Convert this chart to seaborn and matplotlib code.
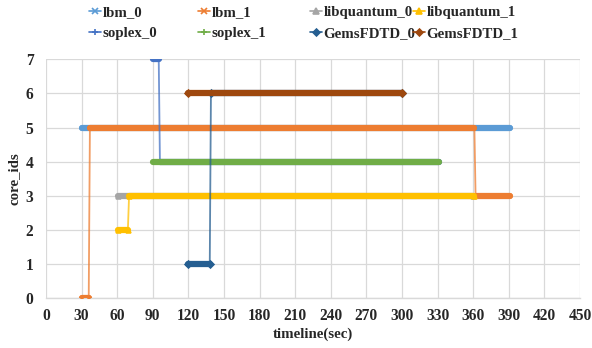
import numpy as np
import pandas as pd
import seaborn as sns
import matplotlib
matplotlib.use("Agg")
import matplotlib.pyplot as plt
from matplotlib.lines import Line2D

# ---- data: change points of each process (time in sec, core id) ----
names = ["lbm_0", "lbm_1", "libquantum_0", "libquantum_1",
         "soplex_0", "soplex_1", "GemsFDTD_0", "GemsFDTD_1"]

lbm_0_t = [30, 391]
lbm_0_core = [5, 5]
lbm_1_t = [30, 36, 37, 361, 362, 391]
lbm_1_core = [0, 0, 5, 5, 3, 3]
libquantum_0_t = [61, 360]
libquantum_0_core = [3, 3]
libquantum_1_t = [61, 69, 70, 361]
libquantum_1_core = [2, 2, 3, 3]
soplex_0_t = [90, 95, 96, 331]
soplex_0_core = [7, 7, 4, 4]
soplex_1_t = [90, 331]
soplex_1_core = [4, 4]
GemsFDTD_0_t = [120, 138, 139, 300]
GemsFDTD_0_core = [1, 1, 6, 6]
GemsFDTD_1_t = [120, 300]
GemsFDTD_1_core = [6, 6]

times = [lbm_0_t, lbm_1_t, libquantum_0_t, libquantum_1_t,
         soplex_0_t, soplex_1_t, GemsFDTD_0_t, GemsFDTD_1_t]
cores = [lbm_0_core, lbm_1_core, libquantum_0_core, libquantum_1_core,
         soplex_0_core, soplex_1_core, GemsFDTD_0_core, GemsFDTD_1_core]

colors = ["#5B9BD5", "#ED7D31", "#A5A5A5", "#FFC000",
          "#4472C4", "#70AD47", "#255E91", "#9E480E"]
markers = ["x", "x", "^", "^", "+", "+", "D", "D"]

x_ticks = list(range(0, 451, 30))
y_ticks = list(range(0, 8))

# ---- style ----
sns.set_theme(style="white")
plt.rcParams["font.family"] = ["Liberation Serif", "DejaVu Serif"]
plt.rcParams["font.weight"] = "bold"

W, H = 592, 348
fig, ax = plt.subplots(figsize=(W / 100, H / 100), dpi=100)
fig.subplots_adjust(left=46 / W, right=580 / W, top=1 - 59.3 / H, bottom=1 - 298 / H)

for i, (nm, t, c, col, mk) in enumerate(zip(names, times, cores, colors, markers)):
    df = pd.DataFrame({"time": t, "core": c})
    z = 3 + i
    # thin connecting line
    sns.lineplot(data=df, x="time", y="core", sort=False, estimator=None,
                 color=col, linewidth=1.3, alpha=0.75, ax=ax, zorder=z)
    # thick bands where the process stays on one core
    for k in range(len(t) - 1):
        if c[k] == c[k + 1]:
            seg = pd.DataFrame({"time": [t[k], t[k + 1]], "core": [c[k], c[k + 1]]})
            sns.lineplot(data=seg, x="time", y="core", sort=False, estimator=None,
                         color=col, linewidth=4.5, solid_capstyle="round",
                         marker=mk, markersize=3.5, markeredgewidth=1.2,
                         markeredgecolor=col, markerfacecolor=col,
                         ax=ax, zorder=z)

ax.set_xlim(0, 450)
ax.set_ylim(0, 7)
ax.set_xticks(x_ticks)
ax.set_yticks(y_ticks)
ax.tick_params(axis="x", labelsize=11.2, length=0, pad=7.5)
ax.tick_params(axis="y", labelsize=11.2, length=0, pad=9)
for lab in ax.get_xticklabels() + ax.get_yticklabels():
    lab.set_fontweight("bold")
ax.grid(True, color="#D9D9D9", linewidth=0.9)
ax.set_axisbelow(True)
for s in ["top", "left", "right"]:
    ax.spines[s].set_visible(False)
ax.spines["bottom"].set_color("#D9D9D9")
ax.spines["bottom"].set_linewidth(1.0)

ax.set_xlabel("timeline(sec)", fontsize=10.7, fontweight="bold", labelpad=2)
ax.set_ylabel("core_ids", fontsize=10.7, fontweight="bold", labelpad=4)

# legend: four fixed-width columns like the reference
handles = [Line2D([0], [0], color=col, marker=mk, markersize=5 if mk != "D" else 3.5,
                  linewidth=1.2, markeredgewidth=1.2, label=nm)
           for nm, col, mk in zip(names, colors, markers)]
col_x = [89, 198, 310, 413]
for j in range(4):
    idx = [j, j + 4]
    fig.legend([handles[i] for i in idx], [names[i] for i in idx],
               loc="upper left", bbox_to_anchor=(col_x[j] / W, 1 - 5.5 / H),
               ncol=1, frameon=False, handlelength=0.8, handletextpad=0.12,
               labelspacing=0.5, borderpad=0, borderaxespad=0,
               prop={"weight": "bold", "size": 10.7})

fig.savefig("out.png", dpi=100)
